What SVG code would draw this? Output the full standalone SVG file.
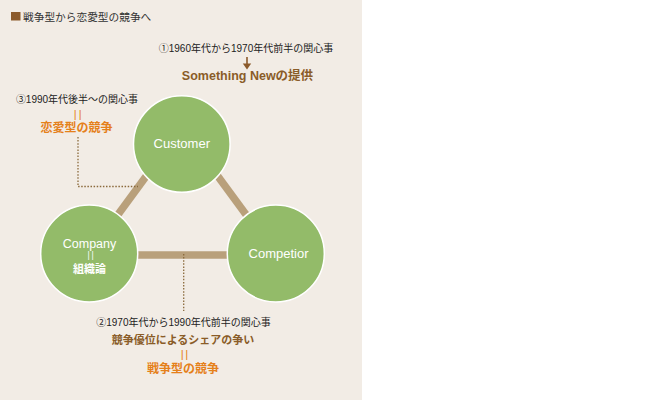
<svg xmlns="http://www.w3.org/2000/svg" width="670" height="400" viewBox="0 0 670 400">
<style>
text{font-family:"Liberation Sans","Noto Sans CJK JP",sans-serif}
.note{font-size:10px;fill:#222}
.brown{font-size:12.5px;font-weight:bold;fill:#8a5c28}
.orange{font-size:12px;font-weight:bold;fill:#e5801a}
.bar{stroke:#b9a07b;stroke-width:7.5;stroke-linecap:butt}
.dot{fill:none;stroke:#8b6a3c;stroke-width:1.3;stroke-dasharray:1.5 1.6}
.node{fill:#93bb69;stroke:#fff;stroke-width:1.5}
.nl{font-size:13px;fill:#fff;text-anchor:middle}
.eq{fill:#e5801a;text-anchor:middle}
</style>
<rect x="0" y="0" width="362" height="400" fill="#f2ece5"/>
<g id="title">
<rect x="11" y="12" width="9.5" height="8.5" fill="#8b5a2b"/>
<text x="23" y="21" style="font-size:10.7px;fill:#333">戦争型から恋愛型の競争へ</text>
</g>
<g id="connectors">
<line class="bar" x1="150" y1="171" x2="114" y2="220"/>
<line class="bar" x1="214" y1="171" x2="250" y2="220"/>
<line class="bar" x1="130" y1="255" x2="235" y2="255"/>
<polyline class="dot" points="78,137 78,186.5 138,186.5"/>
<line class="dot" x1="183.7" y1="254" x2="183.7" y2="311"/>
<line x1="247" y1="57" x2="247" y2="65" stroke="#8b5a2b" stroke-width="1.6"/>
<polygon points="242.8,63.5 251.2,63.5 247,69.5" fill="#8b5a2b"/>
</g>
<g id="customer">
<circle class="node" cx="181.8" cy="144" r="48.3"/>
<text class="nl" x="181.8" y="147.5">Customer</text>
</g>
<g id="company">
<circle class="node" cx="89.2" cy="253.5" r="48.5"/>
<text class="nl" x="89.5" y="247.8" style="font-size:12.5px">Company</text>
<text x="91.4" y="258" style="font-size:8.5px;fill:#fff;text-anchor:middle;letter-spacing:1.8px">||</text>
<text class="nl" x="89.5" y="273" style="font-size:11px;font-weight:bold">組織論</text>
</g>
<g id="competitor">
<circle class="node" cx="275.8" cy="253.5" r="48.5"/>
<text class="nl" x="278.5" y="257.8">Competior</text>
</g>
<g id="note1">
<text class="note" x="246" y="52" text-anchor="middle">①1960年代から1970年代前半の関心事</text>
<text class="brown" x="247.5" y="80" text-anchor="middle">Something Newの提供</text>
</g>
<g id="note3">
<text class="note" x="77" y="103" text-anchor="middle">③1990年代後半～の関心事</text>
<text class="eq" x="78.8" y="117.5" style="font-size:11px;letter-spacing:2.2px">||</text>
<text class="orange" x="76.5" y="132" text-anchor="middle">恋愛型の競争</text>
</g>
<g id="note2">
<text class="note" x="183.5" y="326" text-anchor="middle">②1970年代から1990年代前半の関心事</text>
<text class="brown" x="183" y="344" text-anchor="middle" style="font-size:11px">競争優位によるシェアの争い</text>
<text class="eq" x="185.3" y="358" style="font-size:11.5px;letter-spacing:1.6px">||</text>
<text class="orange" x="183" y="373" text-anchor="middle">戦争型の競争</text>
</g>
</svg>
